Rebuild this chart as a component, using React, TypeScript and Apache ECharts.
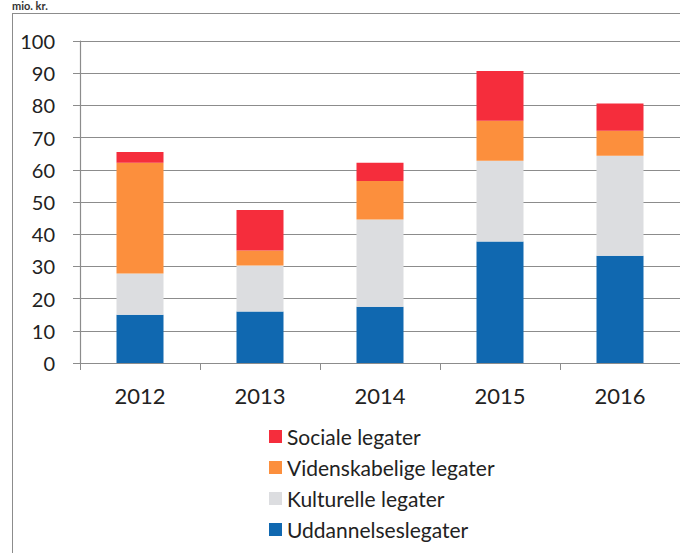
import React, { useEffect, useRef } from "react";
import * as echarts from "echarts";

const years = ["2012", "2013", "2014", "2015", "2016"];
const uddannelses = [15.0, 16.0, 17.5, 37.7, 33.3];
const kulturelle = [12.8, 14.3, 27.1, 25.1, 31.1];
const videnskabelige = [34.4, 4.6, 11.9, 12.4, 7.7];
const sociale = [3.3, 12.6, 5.7, 15.5, 8.5];
const legendOrder = ["Sociale legater", "Videnskabelige legater", "Kulturelle legater", "Uddannelseslegater"];

const FONT = "Lato, 'Open Sans', sans-serif";

export default function App() {
  const ref = useRef<HTMLDivElement>(null);
  useEffect(() => {
    document.documentElement.style.overflow = "hidden";
    document.body.style.overflow = "hidden";
    document.body.style.margin = "0";
    if (!ref.current) return;
    const chart = echarts.init(ref.current, undefined, { renderer: "svg" });
    const mk = (name: string, data: number[], color: string) => ({
      name,
      type: "bar",
      stack: "total",
      data,
      barWidth: 47,
      itemStyle: { color },
      emphasis: { disabled: true },
    });
    chart.setOption({
      animation: false,
      textStyle: { fontFamily: FONT },
      graphic: [
        {
          type: "text",
          left: 12,
          top: 0,
          style: { text: "mio. kr.", font: `bold 11px ${FONT}`, fill: "#333" },
          silent: true,
        },
      ],
      grid: { left: 80, top: 41, right: -7, bottom: 190, containLabel: false },
      legend: {
        orient: "vertical",
        left: 264,
        top: 421,
        itemWidth: 13,
        itemHeight: 13,
        itemGap: 10,
        icon: "rect",
        data: legendOrder,
        textStyle: { fontSize: 21, color: "#222", fontFamily: FONT },
        selectedMode: false,
      },
      xAxis: {
        type: "category",
        data: years,
        axisLine: { lineStyle: { color: "#8c8c8c", width: 1.2 } },
        axisTick: { show: true, length: 7, lineStyle: { color: "#8c8c8c" } },
        axisLabel: { fontSize: 22, color: "#222", margin: 21, fontFamily: FONT },
      },
      yAxis: {
        type: "value",
        min: 0,
        max: 100,
        interval: 10,
        axisLine: { show: true, lineStyle: { color: "#8c8c8c", width: 1.2 } },
        axisTick: { show: true, length: 7, lineStyle: { color: "#8c8c8c" } },
        axisLabel: { fontSize: 20, color: "#222", margin: 25, fontFamily: FONT },
        splitLine: { lineStyle: { color: "#8c8c8c", width: 1.2 } },
      },
      series: [
        mk("Uddannelseslegater", uddannelses, "#1068b0"),
        mk("Kulturelle legater", kulturelle, "#dcdde0"),
        mk("Videnskabelige legater", videnskabelige, "#fc8f3d"),
        mk("Sociale legater", sociale, "#f52d3c"),
      ],
    });
    return () => chart.dispose();
  }, []);
  return (
    <div style={{ position: "fixed", left: 0, top: 0, width: 680, height: 553, overflow: "hidden", background: "#fff" }}>
      <div
        style={{
          position: "absolute",
          left: 12,
          top: 13,
          width: 800,
          height: 700,
          borderLeft: "1.2px solid #8c8c8c",
          borderTop: "1.2px solid #8c8c8c",
        }}
      />
      <div ref={ref} style={{ position: "absolute", left: 0, top: 0, width: 680, height: 553 }} />
    </div>
  );
}
